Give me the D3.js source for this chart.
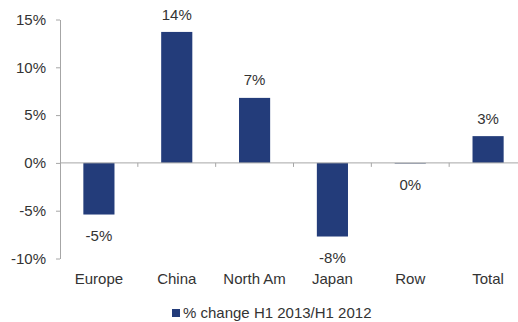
<!DOCTYPE html>
<html>
<head>
<meta charset="utf-8">
<script src="https://cdn.jsdelivr.net/npm/d3@7"></script>
<style>
  html, body { margin: 0; padding: 0; background: #fff; }
  svg { display: block; }
  text { font-family: "Liberation Sans", Arial, sans-serif; fill: #333; }
</style>
</head>
<body>
<svg id="chart" width="518" height="322"></svg>
<script>
// Percentage change by region, H1 2013 vs H1 2012
const categories = ["Europe", "China", "North Am", "Japan", "Row", "Total"];
const changeValues = [-0.054, 0.137, 0.068, -0.077, -0.001, 0.028];
const yTickValues = [-0.10, -0.05, 0, 0.05, 0.10, 0.15];
const seriesName = "% change H1 2013/H1 2012";

const svg = d3.select("#chart");
const barColor = "#233c7a";
const axisColor = "#a6a6a6";
const fontSize = 15;

const x = d3.scaleBand().domain(categories).range([60, 527]).paddingInner(0.6).paddingOuter(0.3);
const band = d3.scaleBand().domain(categories).range([60, 527]);
const y = d3.scaleLinear().domain([-0.10, 0.15]).range([258.5, 19.5]);

// Percent format with a plain hyphen for negatives
const locale = d3.formatLocale({ decimal: ".", thousands: ",", grouping: [3], currency: ["", ""], minus: "-" });
const pct = locale.format(".0%");

// Y axis
const yAxis = svg.append("g").attr("transform", "translate(60,0)")
  .call(d3.axisLeft(y).tickValues(yTickValues).tickFormat(pct).tickSizeInner(4).tickSizeOuter(0).tickPadding(10));
yAxis.select(".domain").attr("stroke", axisColor);
yAxis.selectAll(".tick line").attr("stroke", axisColor);
yAxis.selectAll(".tick text").attr("font-size", fontSize).attr("fill", "#333")
  .attr("font-family", "'Liberation Sans', Arial, sans-serif");

// Bars
svg.append("g").selectAll("rect").data(categories).join("rect")
  .attr("x", d => x(d))
  .attr("width", x.bandwidth())
  .attr("y", (d, i) => Math.min(y(changeValues[i]), y(0)))
  .attr("height", (d, i) => Math.max(Math.abs(y(changeValues[i]) - y(0)), 0.8))
  .attr("fill", (d, i) => Math.abs(changeValues[i]) < 0.005 ? "#8a95ac" : barColor);

// Zero line with category ticks
const xAxis = svg.append("g").attr("transform", `translate(0,${y(0)})`);
xAxis.append("line").attr("x1", 60).attr("x2", 527).attr("stroke", axisColor).attr("stroke-width", 1);
xAxis.selectAll("line.tk").data(categories.slice(1)).join("line").attr("class", "tk")
  .attr("x1", d => band(d)).attr("x2", d => band(d)).attr("y1", 0).attr("y2", 4)
  .attr("stroke", axisColor);

// Category labels
svg.append("g").selectAll("text").data(categories).join("text")
  .attr("x", d => x(d) + x.bandwidth() / 2)
  .attr("y", 283.5)
  .attr("text-anchor", "middle")
  .attr("font-size", fontSize)
  .text(d => d);

// Value labels
svg.append("g").selectAll("text").data(categories).join("text")
  .attr("x", d => x(d) + x.bandwidth() / 2)
  .attr("y", (d, i) => changeValues[i] > 0 ? y(changeValues[i]) - 12.4 : y(changeValues[i]) + 26.5)
  .attr("text-anchor", "middle")
  .attr("font-size", fontSize)
  .text((d, i) => pct(Math.round(changeValues[i] * 100) / 100 + 0));

// Legend
const legend = svg.append("g");
legend.append("rect").attr("x", 172).attr("y", 309).attr("width", 8).attr("height", 8).attr("fill", barColor);
legend.append("text").attr("x", 183).attr("y", 318).attr("font-size", fontSize).text(seriesName);
</script>
</body>
</html>
